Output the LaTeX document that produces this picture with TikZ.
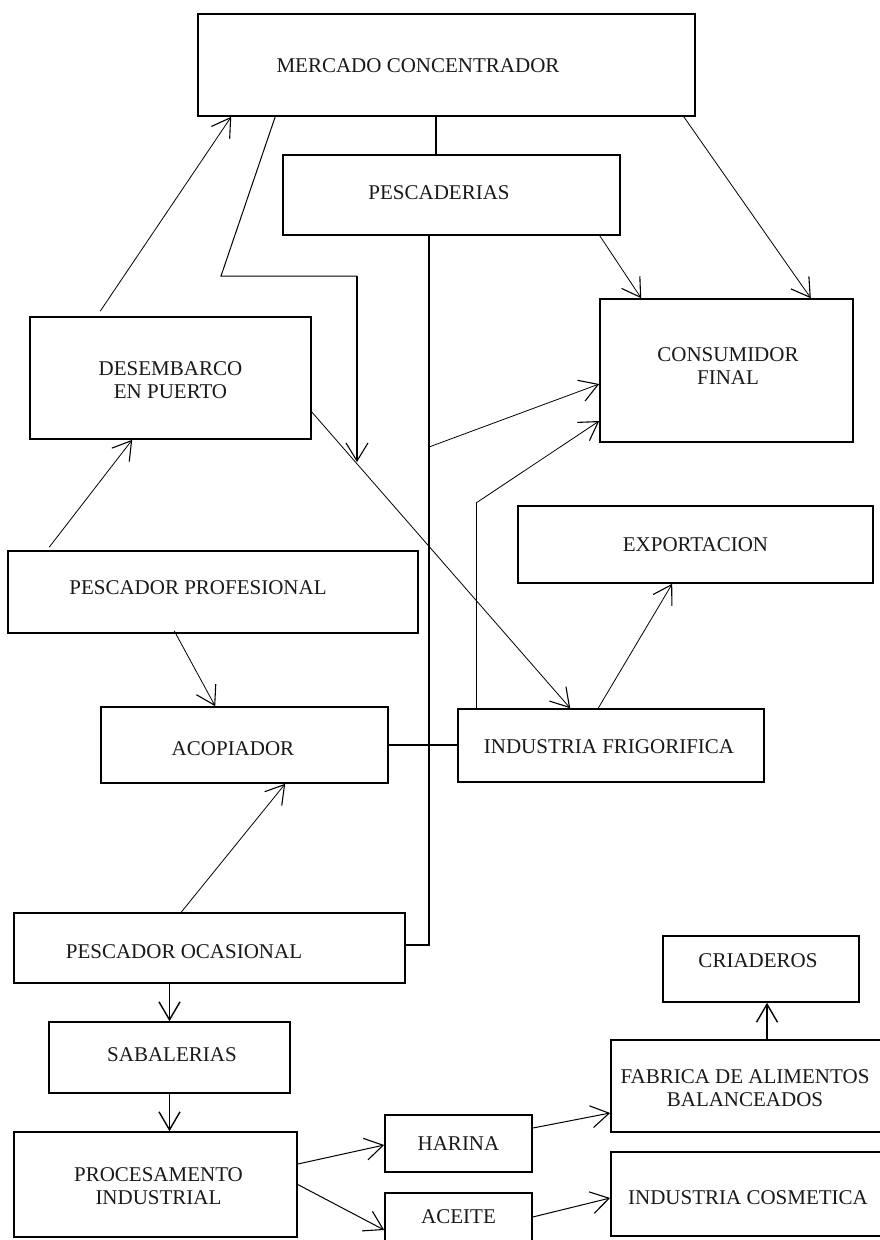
\documentclass[tikz,border=0pt]{standalone}
\usepackage{fontspec}
\setmainfont{Liberation Serif}
\usetikzlibrary{arrows.meta,calc}
\begin{document}
\begin{tikzpicture}[x=1pt,y=-1pt,
  box/.style={draw, line width=1.6pt, inner sep=0pt},
  lbl/.style={font=\fontsize{21}{23}\selectfont, text=black!90, inner sep=0pt, align=center},
  conn/.style={line width=0.8pt},
  arr/.style={conn, -{Straight Barb[length=18pt,width=22pt,line width=1.1pt]}},
  thickarr/.style={line width=1.4pt, -{Straight Barb[length=18pt,width=21pt,line width=1.4pt]}}]
\useasboundingbox (0,0) rectangle (879,1240);
\fill[white] (0,0) rectangle (879,1240);

% boxes
\node[box, minimum width=497, minimum height=102, label={[lbl,xshift=-28.5pt,yshift=-1pt]center:MERCADO CONCENTRADOR}] (merc) at (446.5,65) {};
\node[box, minimum width=337, minimum height=80, label={[lbl,xshift=-12.5pt,yshift=2pt]center:PESCADERIAS}] (pesc) at (451.5,195) {};
\node[box, minimum width=281, minimum height=122, label={[lbl,yshift=-2pt]center:DESEMBARCO\\EN PUERTO}] (desem) at (170.5,378) {};
\node[box, minimum width=253, minimum height=143, label={[lbl,xshift=1.5pt,yshift=4pt]center:CONSUMIDOR\\FINAL}] (cons) at (726.5,370.5) {};
\node[box, minimum width=355, minimum height=77, label={[lbl]center:EXPORTACION}] (export) at (695.5,544.5) {};
\node[box, minimum width=410, minimum height=82, label={[lbl,xshift=-15pt,yshift=4pt]center:PESCADOR PROFESIONAL}] (pprof) at (213,592) {};
\node[box, minimum width=287, minimum height=76, label={[lbl,xshift=-11.5pt,yshift=-4pt]center:ACOPIADOR}] (acop) at (244.5,745) {};
\node[box, minimum width=306, minimum height=73, label={[lbl,xshift=-2pt,yshift=-1.5pt]center:INDUSTRIA FRIGORIFICA}] (frig) at (611,745.5) {};
\node[box, minimum width=391, minimum height=70, label={[lbl,xshift=-25.5pt,yshift=-4pt]center:PESCADOR OCASIONAL}] (pocas) at (209.5,948) {};
\node[box, minimum width=241, minimum height=71, label={[lbl,xshift=2.5pt,yshift=2.5pt]center:SABALERIAS}] (sabal) at (169.5,1057.5) {};
\node[box, minimum width=283, minimum height=105, label={[lbl,xshift=3pt,yshift=-2pt]center:PROCESAMENTO\\INDUSTRIAL}] (proc) at (155.5,1184.5) {};
\node[box, minimum width=147, minimum height=57, label={[lbl]center:HARINA}] (harina) at (458.5,1143.5) {};
\node[box, minimum width=147, minimum height=48, label={[lbl]center:ACEITE}] (aceite) at (458.5,1217) {};
\node[box, minimum width=274, minimum height=92, label={[lbl,xshift=-3pt,yshift=-2.5pt]center:FABRICA DE ALIMENTOS\\BALANCEADOS}] (fab) at (748,1086) {};
\node[box, minimum width=196, minimum height=66, label={[lbl,xshift=-3pt,yshift=8pt]center:CRIADEROS}] (crias) at (761,969) {};
\node[box, minimum width=274, minimum height=84, label={[lbl,yshift=-4pt]center:INDUSTRIA COSMETICA}] (cosm) at (748,1194) {};

% helper coordinates
\coordinate (cm) at (436,0);
\coordinate (k1) at (221,276);
\coordinate (k2) at (357,276);
\coordinate (e1) at (357,462);
\coordinate (b1) at (429,447);
\coordinate (k3) at (476,503);
\coordinate (cx) at (767,0);

% connectors
\draw[line width=1.2pt] (merc.south -| cm) -- (pesc.north -| cm);
\draw[arr] ([xshift=71pt,yshift=5pt]desem.north west) -- ([xshift=34pt]merc.south west);
\draw[conn, line width=1pt] ([xshift=78pt]merc.south west) -- (k1) -- (k2);
\draw[arr, line width=1.2pt] (k2) -- (e1);
\draw[arr] ([xshift=-12pt]merc.south east) -- ([xshift=-43pt]cons.north east);
\draw[arr] ([xshift=-21pt]pesc.south east) -- ([xshift=42pt]cons.north west);
\draw[conn, line width=1.3pt] (pesc.south -| b1) |- ([yshift=3pt]pocas.east);
\draw[arr] (b1) -- ([yshift=-13.5pt]cons.west);
\draw[conn, line width=1pt] (frig.north -| k3) -- (k3);
\draw[arr] (k3) -- ([yshift=-50.5pt]cons.west);
\draw[arr] ([yshift=-34pt]desem.east) -- ([xshift=113pt]frig.north west);
\draw[arr] ([xshift=141pt]frig.north west) -- ([xshift=155pt]export.south west);
\draw[arr] ([xshift=42pt,yshift=3pt]pprof.north west) -- ([xshift=103pt]desem.south west);
\draw[arr] ([xshift=167pt,yshift=3pt]pprof.south west) -- ([xshift=115pt]acop.north west);
\draw[line width=1.6pt] (acop.east) -- (acop.east -| frig.west);
\draw[arr] ([xshift=168pt]pocas.north west) -- ([xshift=185pt]acop.south west);
\draw[thickarr] (sabal.north |- pocas.south) -- (sabal.north);
\draw[thickarr] (sabal.south) -- (sabal.south |- proc.north);
\draw[arr, line width=1pt] ([yshift=20.5pt]proc.east) -- ([yshift=-1.5pt]harina.west);
\draw[arr, line width=1pt] (proc.east) -- ([yshift=-13pt]aceite.west);
\draw[arr, line width=1pt] ([yshift=15.5pt]harina.east) -- ([yshift=-27pt]fab.west);
\draw[arr, line width=1pt] (aceite.east) -- ([yshift=-4pt]cosm.west);
\draw[thickarr] (fab.north -| cx) -- (crias.south -| cx);
\end{tikzpicture}
\end{document}
